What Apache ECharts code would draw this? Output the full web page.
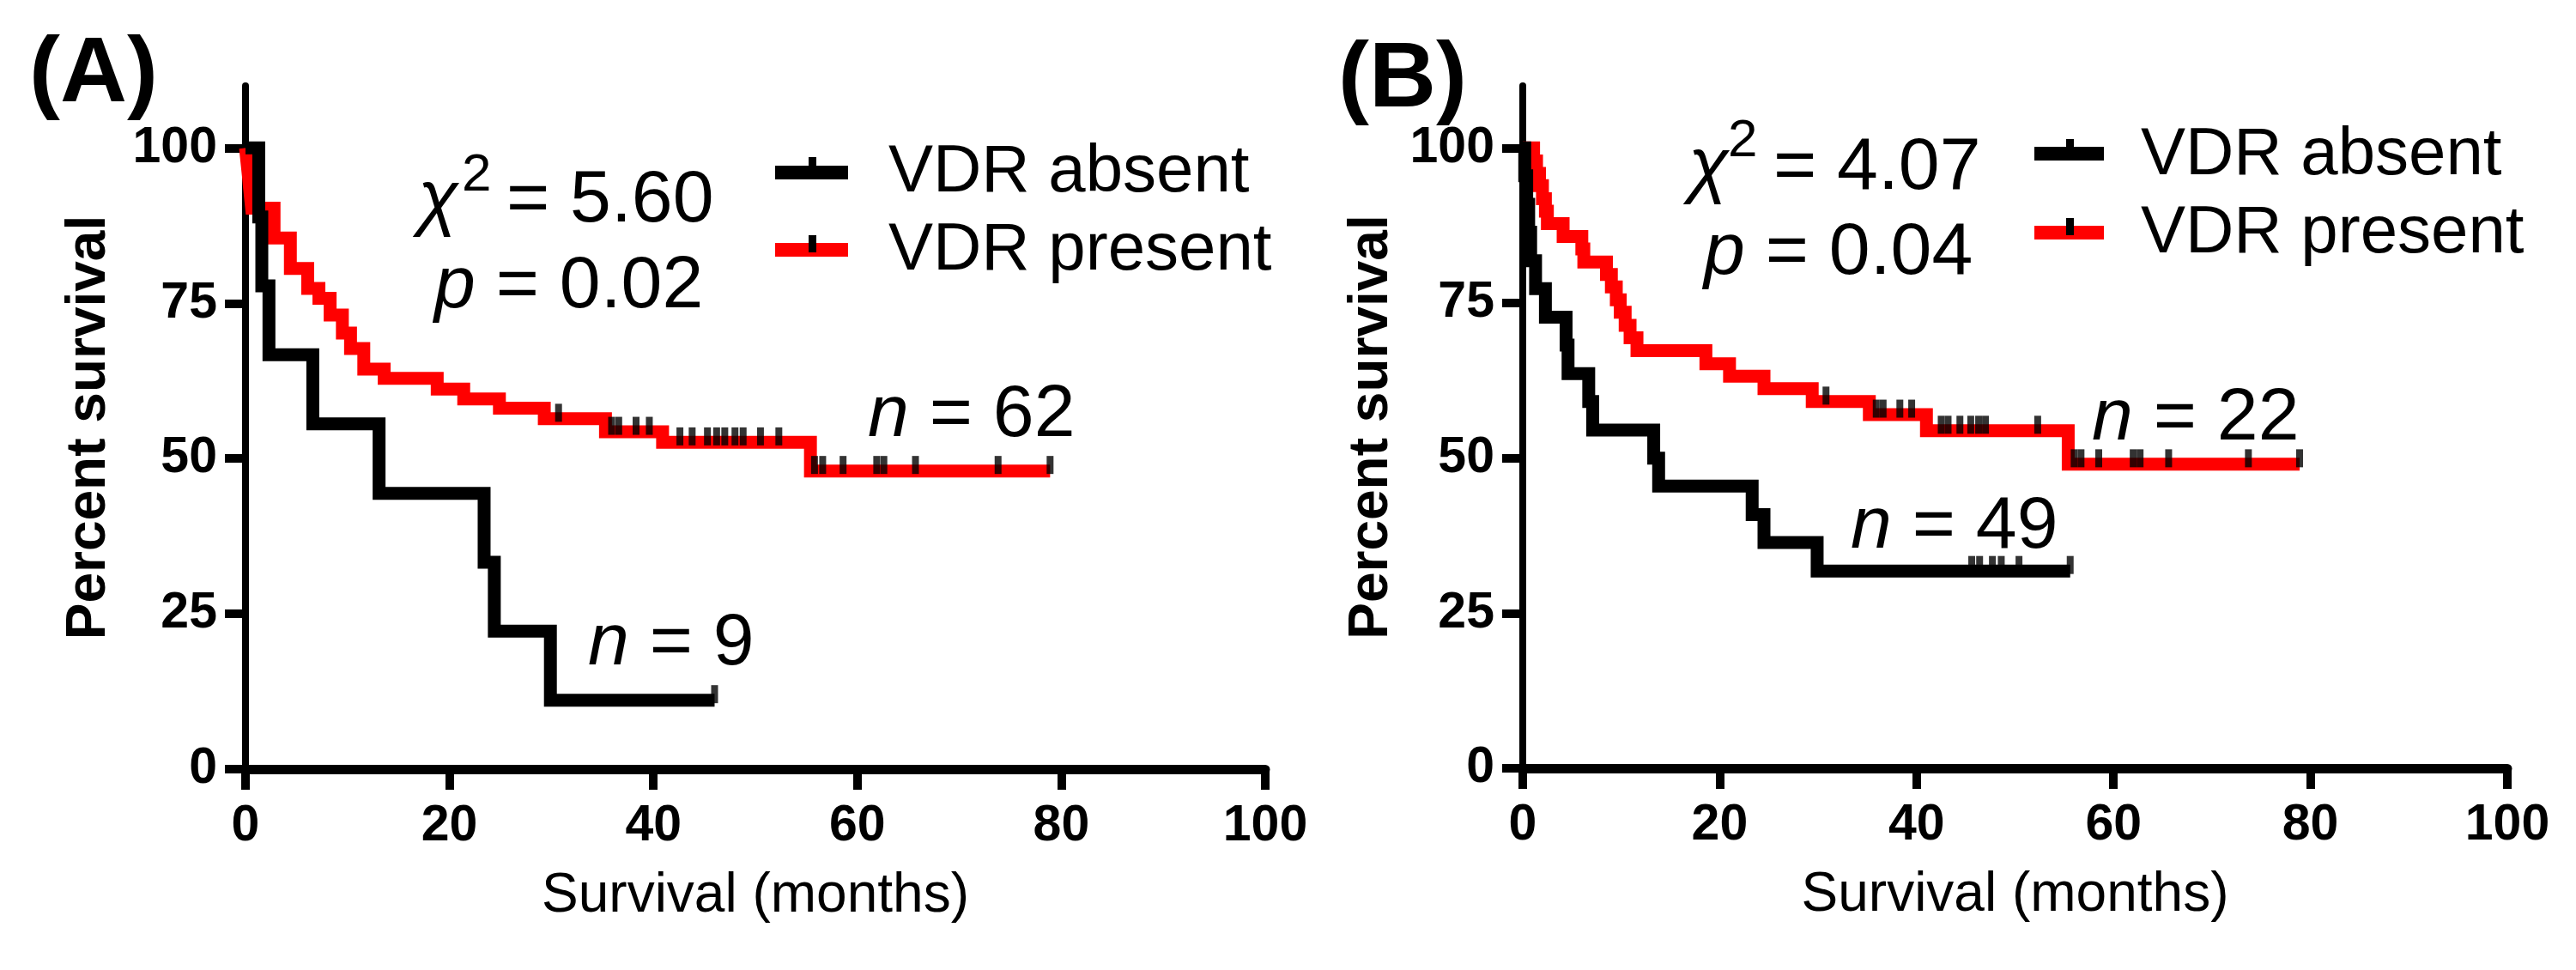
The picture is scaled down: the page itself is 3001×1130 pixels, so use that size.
<!DOCTYPE html>
<html><head><meta charset="utf-8">
<script src="https://cdn.jsdelivr.net/npm/echarts@6/dist/echarts.min.js"></script>
<style>html,body{margin:0;padding:0;background:#fff}#c{width:3001px;height:1130px}</style>
</head><body><div id="c"></div>
<script>
// ---------------- data ----------------
const xTickValues = [0, 20, 40, 60, 80, 100];
const yTickValues = [0, 25, 50, 75, 100];
const seriesNames = ['VDR absent', 'VDR present'];
const panelLabels = ['(A)', '(B)'];
const statsA = { chi2: '5.60', p: '0.02', nAbsent: '9', nPresent: '62' };
const statsB = { chi2: '4.07', p: '0.04', nAbsent: '49', nPresent: '22' };

// Kaplan-Meier steps [month, percent survival]
const absentA = [[0,100],[1.3,88.9],[1.6,77.8],[2.3,66.7],[6.6,55.6],[13.1,44.4],[23.4,33.3],[24.4,22.2],[29.9,11.1],[46.0,11.1]];
const presentA = [[0,100],[0.1,98.4],[0.2,96.8],[0.3,95.2],[0.4,93.5],[0.5,91.9],[0.6,90.3],[2.8,85.5],[4.4,80.6],[6.1,77.4],[7.2,75.8],[8.3,73.1],[9.5,70.2],[10.3,67.7],[11.6,64.4],[13.6,62.9],[18.8,61.2],[21.4,59.6],[24.9,58.1],[29.3,56.4],[35.3,54.3],[40.9,52.6],[55.4,48.0],[78.9,48.0]];
const absentB = [[0,100],[0.2,95.5],[0.4,90.9],[0.6,86.4],[0.8,81.8],[1.3,77.3],[2.3,72.7],[4.4,68.2],[4.6,63.6],[6.7,59.1],[7.1,54.5],[13.3,50.0],[13.8,45.5],[23.3,40.9],[24.5,36.4],[29.9,31.8],[55.6,31.8]];
const presentB = [[0,100],[1.1,97.9],[1.4,95.9],[1.7,93.9],[2.0,91.8],[2.3,89.8],[2.5,87.8],[4.1,85.7],[6.0,83.7],[6.2,81.6],[8.5,79.6],[9.0,77.6],[9.5,75.5],[9.9,73.5],[10.4,71.4],[10.9,69.4],[11.6,67.3],[18.6,65.2],[21.0,63.2],[24.5,61.2],[29.4,59.1],[35.2,57.0],[41.0,54.4],[55.4,49.0],[78.9,49.0]];

// censored observations (months)
const censAbsentA = [46.0];
const censPresentA = [30.7,35.9,36.6,38.3,39.6,42.6,43.8,45.3,46.2,47.0,48.0,48.8,50.5,52.3,55.8,56.6,58.6,61.9,62.6,65.7,73.8,78.9];
const censAbsentB = [45.6,46.4,47.7,48.6,50.4,55.6];
const censPresentB = [30.8,35.9,36.6,38.3,39.5,42.5,43.2,44.4,45.5,46.3,47.0,52.3,56.0,56.7,58.5,62.0,62.7,65.6,73.7,78.9];

// ---------------- chart ----------------
const FF = '"Liberation Sans", Arial, Helvetica, sans-serif';
function levelAt(curve, t) {
  let v = curve[0][1];
  for (const [x, y] of curve) { if (x <= t + 1e-9) v = y; else break; }
  return v;
}
function censorPts(curve, times) { return times.map(t => [t, levelAt(curve, t)]); }

function xAxisCfg(gi) {
  return {
    type: 'value', gridIndex: gi, min: 0, max: 100, interval: 20,
    name: 'Survival (months)', nameLocation: 'middle', nameGap: 116,
    nameTextStyle: { fontFamily: FF, fontSize: 64, color: '#000' },
    axisLine: { show: true, lineStyle: { color: '#000', width: 11 } },
    axisTick: { show: true, length: 24, customValues: xTickValues, lineStyle: { color: '#000', width: 10 } },
    axisLabel: { fontFamily: FF, fontWeight: 'bold', fontSize: 59, color: '#000', margin: 37, customValues: xTickValues },
    splitLine: { show: false }
  };
}
function yAxisCfg(gi, gap) {
  return {
    type: 'value', gridIndex: gi, min: 0, max: 110, interval: 25,
    name: 'Percent survival', nameLocation: 'middle', nameGap: gap,
    nameTextStyle: { fontFamily: FF, fontWeight: 'bold', fontSize: 64, color: '#000' },
    axisLine: { show: true, lineStyle: { color: '#000', width: 8 } },
    axisTick: { show: true, length: 24, customValues: yTickValues, lineStyle: { color: '#000', width: 10 } },
    axisLabel: { fontFamily: FF, fontWeight: 'bold', fontSize: 59, color: '#000', margin: 33, customValues: yTickValues },
    splitLine: { show: false }
  };
}
function lineSeries(name, data, gi, color, z) {
  return {
    name, type: 'line', xAxisIndex: gi, yAxisIndex: gi, data, step: 'end',
    symbol: 'none', showSymbol: false, clip: false, silent: true, z,
    lineStyle: { color, width: 15, join: 'miter', cap: 'butt' },
    itemStyle: { color }
  };
}
function censorSeries(curve, times, gi) {
  return {
    type: 'scatter', xAxisIndex: gi, yAxisIndex: gi, data: censorPts(curve, times),
    symbol: 'rect', symbolSize: [8, 21], symbolOffset: [0, -7], clip: false, silent: true, z: 6,
    itemStyle: { color: '#000' }
  };
}
function txt(x, y, text, size, opts) {
  opts = opts || {};
  return {
    type: 'text', x, y, z: 10, silent: true,
    style: Object.assign({
      text, fill: '#000', fontFamily: FF, fontSize: size,
      fontWeight: opts.bold ? 'bold' : 'normal', fontStyle: opts.italic ? 'italic' : 'normal',
      textAlign: 'left', textVerticalAlign: 'middle'
    }, opts.rich ? { rich: opts.rich } : {})
  };
}
const RICH = {
  i: { fontFamily: FF, fontSize: 86, fontStyle: 'italic', fill: '#000' },
  r: { fontFamily: FF, fontSize: 86, fill: '#000' }
};
function rect(x, y, w, h, color) {
  return { type: 'rect', z: 10, silent: true, shape: { x, y, width: w, height: h }, style: { fill: color } };
}

const graphics = [
  // panel labels
  txt(34, 88, panelLabels[0], 108, { bold: true }),
  txt(1559, 94, panelLabels[1], 108, { bold: true }),
  // panel A stats
  txt(487, 234, 'χ', 86, { italic: true }),
  txt(538, 205, '2', 62),
  txt(590, 234, '= ' + statsA.chi2, 86),
  txt(506, 334, '{i|p}{r| = ' + statsA.p + '}', 86, { rich: RICH }),
  txt(1011, 484, '{i|n}{r| = ' + statsA.nPresent + '}', 86, { rich: RICH }),
  txt(685, 750, '{i|n}{r| = ' + statsA.nAbsent + '}', 86, { rich: RICH }),
  // panel B stats
  txt(1967, 196, 'χ', 86, { italic: true }),
  txt(2013, 165, '2', 62),
  txt(2066, 196, '= ' + statsB.chi2, 86),
  txt(1985, 295, '{i|p}{r| = ' + statsB.p + '}', 86, { rich: RICH }),
  txt(2437, 488, '{i|n}{r| = ' + statsB.nPresent + '}', 86, { rich: RICH }),
  txt(2156, 614, '{i|n}{r| = ' + statsB.nAbsent + '}', 86, { rich: RICH }),
  // legend A
  rect(903, 193, 85, 16, '#000'), rect(942, 183, 9, 20, '#000'),
  rect(903, 283, 85, 16, '#ff0000'), rect(942, 274, 9, 20, '#000'),
  txt(1035, 201, seriesNames[0], 78), txt(1035, 292, seriesNames[1], 78),
  // legend B
  rect(2370, 171, 81, 16, '#000'), rect(2407, 162, 9, 20, '#000'),
  rect(2370, 263, 81, 16, '#ff0000'), rect(2407, 254, 9, 20, '#000'),
  txt(2494, 181, seriesNames[0], 78), txt(2494, 272, seriesNames[1], 78)
];

const option = {
  backgroundColor: '#fff',
  animation: false,
  grid: [
    { left: 286, right: 3001 - 1474, top: 100, bottom: 1130 - 896, containLabel: false },
    { left: 1774, right: 3001 - 2921, top: 100, bottom: 1130 - 895, containLabel: false }
  ],
  xAxis: [xAxisCfg(0), xAxisCfg(1)],
  yAxis: [yAxisCfg(0, 150), yAxisCfg(1, 144)],
  series: [
    lineSeries(seriesNames[1], presentA, 0, '#ff0000', 2),
    lineSeries(seriesNames[0], absentA, 0, '#000000', 3),
    lineSeries(seriesNames[1], presentB, 1, '#ff0000', 2),
    lineSeries(seriesNames[0], absentB, 1, '#000000', 3),
    censorSeries(presentA, censPresentA, 0),
    censorSeries(absentA, censAbsentA, 0),
    censorSeries(presentB, censPresentB, 1),
    censorSeries(absentB, censAbsentB, 1)
  ],
  graphic: graphics
};
const chart = echarts.init(document.getElementById('c'), null, { renderer: 'canvas' });
chart.setOption(option);
</script></body></html>
